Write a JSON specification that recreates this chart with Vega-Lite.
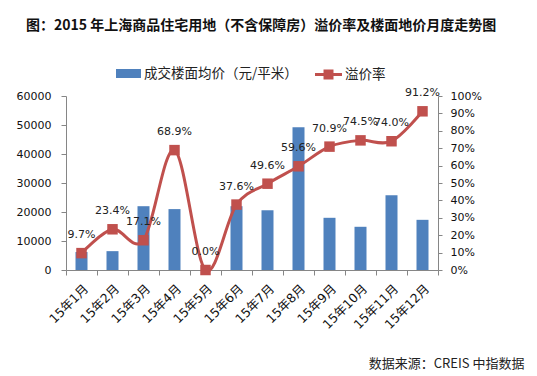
{
  "$schema": "https://vega.github.io/schema/vega-lite/v6.json",
  "width": 372,
  "height": 174,
  "autosize": {"type": "none"},
  "padding": {"left": 66, "top": 96, "right": 99, "bottom": 106},
  "background": "white",
  "title": {
    "text": "图：2015 年上海商品住宅用地（不含保障房）溢价率及楼面地价月度走势图",
    "anchor": "start",
    "frame": "group",
    "font": "Noto Sans CJK SC",
    "fontSize": 14,
    "fontWeight": "bold",
    "color": "#111111",
    "dx": -40,
    "dy": 3,
    "offset": 31
  },
  "data": {
    "values": [
      {"month": "15年1月", "price": 6200, "rate": 0.097},
      {"month": "15年2月", "price": 6500, "rate": 0.234},
      {"month": "15年3月", "price": 22000, "rate": 0.171},
      {"month": "15年4月", "price": 21000, "rate": 0.689},
      {"month": "15年5月", "price": 0, "rate": 0.0},
      {"month": "15年6月", "price": 22000, "rate": 0.376},
      {"month": "15年7月", "price": 20600, "rate": 0.496},
      {"month": "15年8月", "price": 49200, "rate": 0.596},
      {"month": "15年9月", "price": 18000, "rate": 0.709},
      {"month": "15年10月", "price": 14900, "rate": 0.745},
      {"month": "15年11月", "price": 25800, "rate": 0.740},
      {"month": "15年12月", "price": 17300, "rate": 0.912}
    ]
  },
  "encoding": {
    "x": {
      "field": "month", "type": "ordinal", "sort": null,
      "scale": {"type": "band", "paddingInner": 0, "paddingOuter": 0},
      "axis": {
        "labelAngle": -45,
        "labelFontSize": 12.5,
        "tickBand": "extent",
        "tickSize": 5,
        "labelPadding": 7,
        "title": "数据来源：CREIS 中指数据",
        "titleFont": "Noto Sans CJK SC",
        "titleFontSize": 13,
        "titleFontWeight": "normal",
        "titleColor": "#222222",
        "titleAlign": "right",
        "titleBaseline": "middle",
        "titleX": 458,
        "titleY": 93
      }
    }
  },
  "layer": [
    {
      "mark": {"type": "bar", "size": 12},
      "encoding": {
        "y": {
          "field": "price", "type": "quantitative",
          "scale": {"domain": [0, 60000]},
          "axis": {
            "orient": "left",
            "values": [0, 10000, 20000, 30000, 40000, 50000, 60000],
            "format": "d",
            "title": null,
            "tickSize": 5,
            "labelPadding": 10
          }
        },
        "fill": {
          "datum": "成交楼面均价（元/平米）",
          "type": "nominal",
          "scale": {"range": ["#4F81BD"]},
          "legend": {
            "orient": "none",
            "legendX": 50,
            "legendY": -35,
            "title": null,
            "symbolType": "M-1,-0.36H1V0.36H-1Z",
            "symbolSize": 625,
            "symbolStrokeWidth": 0,
            "labelOffset": 3,
            "padding": 0
          }
        }
      }
    },
    {
      "encoding": {
        "y": {
          "field": "rate", "type": "quantitative",
          "scale": {"domain": [0, 1]},
          "axis": {
            "orient": "right",
            "values": [0, 0.1, 0.2, 0.3, 0.4, 0.5, 0.6, 0.7, 0.8, 0.9, 1],
            "format": ".0%",
            "title": null,
            "tickSize": 4,
            "labelPadding": 8
          }
        }
      },
      "layer": [
        {
          "mark": {"type": "line", "interpolate": "cardinal", "color": "#C0504D", "strokeWidth": 3}
        },
        {
          "mark": {"type": "square", "size": 110, "filled": true, "opacity": 1},
          "encoding": {
            "fill": {
              "datum": "溢价率",
              "type": "nominal",
              "scale": {"range": ["#C0504D"]},
              "legend": {
                "orient": "none",
                "legendX": 249,
                "legendY": -35,
                "title": null,
                "symbolType": "M-1,-0.11H1V0.11H-1Z M-0.37,-0.37H0.37V0.37H-0.37Z",
                "symbolSize": 729,
                "symbolStrokeWidth": 0,
                "symbolOpacity": 1,
                "labelOffset": 3,
                "padding": 0
              }
            }
          }
        },
        {
          "mark": {"type": "text", "dy": -18, "font": "DejaVu Sans", "fontSize": 11, "color": "#222222"},
          "encoding": {
            "text": {"field": "rate", "type": "quantitative", "format": ".1%"}
          }
        }
      ]
    }
  ],
  "resolve": {"scale": {"y": "independent", "fill": "independent"}, "axis": {"y": "independent"}, "legend": {"fill": "independent"}},
  "config": {
    "view": {"stroke": null},
    "axis": {
      "grid": false,
      "domainColor": "#868686",
      "tickColor": "#868686",
      "labelColor": "#111111",
      "labelFont": "DejaVu Sans, Noto Sans CJK SC",
      "labelFontSize": 11
    },
    "legend": {
      "labelFont": "Noto Sans CJK SC",
      "labelFontSize": 13.5,
      "labelColor": "#222222"
    }
  }
}
